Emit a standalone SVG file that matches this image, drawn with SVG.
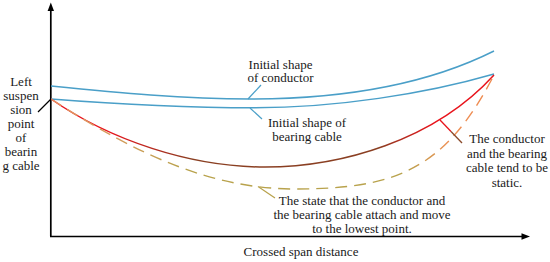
<svg xmlns="http://www.w3.org/2000/svg" width="550" height="262" viewBox="0 0 550 262">
<style>
text{font-size:13px;fill:#1a1a1a;text-anchor:middle}
.axis{stroke:#000;stroke-width:1.7;fill:none}
.blue{stroke:#4a9fc8;stroke-width:1.4;fill:none}
.solid{stroke:url(#gRed);stroke-width:1.5;fill:none}
.dash{stroke:url(#gDash);stroke-width:1.4;fill:none;stroke-dasharray:12 7}
</style>
<defs>
<linearGradient id="gRed" gradientUnits="userSpaceOnUse" x1="51" y1="0" x2="494" y2="0">
<stop offset="0" stop-color="#e8141c"/><stop offset="0.13" stop-color="#e8141c"/>
<stop offset="0.32" stop-color="#8a3f22"/><stop offset="0.74" stop-color="#8a3f22"/>
<stop offset="0.86" stop-color="#e8141c"/><stop offset="1" stop-color="#e8141c"/>
</linearGradient>
<linearGradient id="gDash" gradientUnits="userSpaceOnUse" x1="51" y1="0" x2="494" y2="0">
<stop offset="0" stop-color="#e89060"/><stop offset="0.15" stop-color="#d49c5c"/>
<stop offset="0.3" stop-color="#b8a24c"/><stop offset="0.8" stop-color="#b8a24c"/>
<stop offset="0.9" stop-color="#ee9055"/><stop offset="1" stop-color="#ee8a50"/>
</linearGradient>
</defs>
<rect width="550" height="262" fill="#fff"/>
<g id="axes">
<line class="axis" x1="50.8" y1="236.5" x2="50.8" y2="9"/>
<polygon points="50.8,2.5 47.6,11 54,11" fill="#000"/>
<line class="axis" x1="50" y1="236.5" x2="522" y2="236.5"/>
<polygon points="530,236.5 521.5,233.3 521.5,239.7" fill="#000"/>
</g>
<g id="curves">
<path id="conductor" class="blue" d="M51,86 C117,92.6 184,99 250,99 C331,99 420,88 494,51"/>
<path id="bearing" class="blue" d="M51,99 C119,104.4 187,107.8 255,107.8 C335,107.8 425,94 494,74"/>
<path id="static" class="solid" d="M51,99 C110,140 190,167 265,167 C340,167 434,141 494,75"/>
<path id="lowest" class="dash" d="M51,99 C141,157.5 215,189 295,189 C395,189 445,170 494,75"/>
</g>
<g id="connectors">
<line x1="38" y1="112" x2="51" y2="99" stroke="#000" stroke-width="1.3"/>
<line x1="248" y1="99" x2="261" y2="85" stroke="#4a9fc8" stroke-width="1.2"/>
<line x1="250" y1="108" x2="262" y2="119" stroke="#4a9fc8" stroke-width="1.2"/>
<line x1="440" y1="120" x2="451" y2="131.5" stroke="#e8141c" stroke-width="1.3"/>
<line x1="451" y1="131.5" x2="462" y2="143" stroke="#8a4a2a" stroke-width="1.3"/>
<line x1="258" y1="186.5" x2="275" y2="198" stroke="#b8a24c" stroke-width="1.2"/>
</g>
<g font-family="Liberation Serif, DejaVu Serif, serif">
<g id="label-left">
<text x="21" y="86">Left</text>
<text x="21" y="100">suspen</text>
<text x="21" y="114">sion</text>
<text x="21" y="128">point</text>
<text x="21" y="142">of</text>
<text x="21" y="156">bearin</text>
<text x="21" y="170">g cable</text>
</g>
<g id="label-conductor">
<text x="280.5" y="68.5">Initial shape</text>
<text x="280.5" y="82">of conductor</text>
</g>
<g id="label-bearing">
<text x="307" y="127">Initial shape of</text>
<text x="307" y="141">bearing cable</text>
</g>
<g id="label-static">
<text x="507" y="143">The conductor</text>
<text x="507" y="157.5">and the bearing</text>
<text x="507" y="172">cable tend to be</text>
<text x="507" y="186.5">static.</text>
</g>
<g id="label-lowest">
<text x="362" y="205">The state that the conductor and</text>
<text x="362" y="219">the bearing cable attach and move</text>
<text x="362" y="232.5">to the lowest point.</text>
</g>
<g id="label-x">
<text x="301" y="256">Crossed span distance</text>
</g>
</g>
</svg>
